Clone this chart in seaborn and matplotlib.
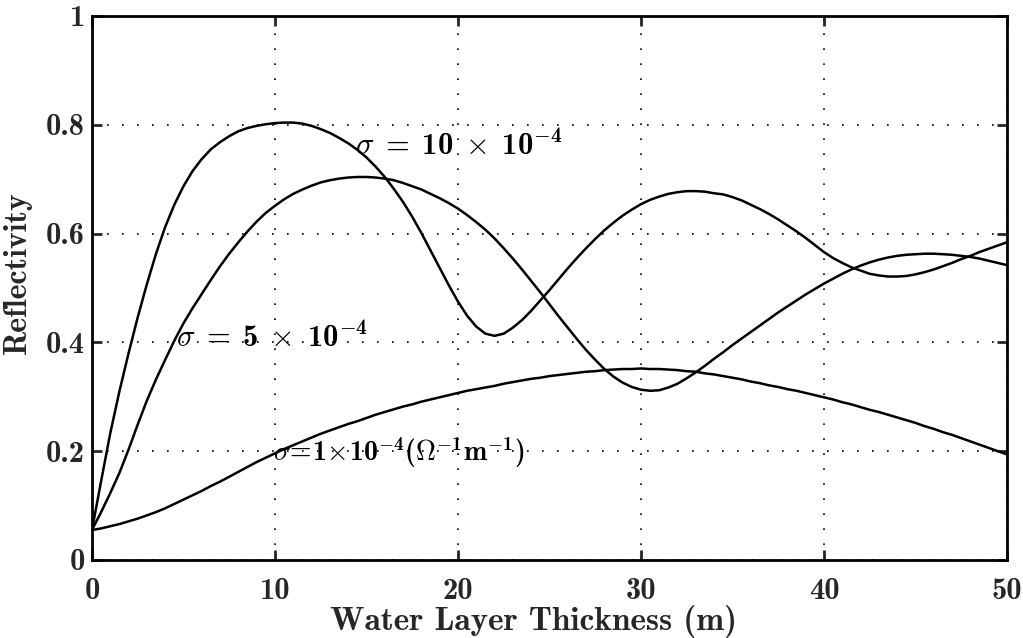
import matplotlib
matplotlib.use("Agg")
import matplotlib.pyplot as plt
import numpy as np
import pandas as pd
import seaborn as sns

# Water layer thickness (m), sampled every 0.5 m
thickness = np.arange(0, 50.5, 0.5)

# Reflectivity for sigma = 10e-4
refl_sigma10 = [
    0.055, 0.145, 0.233, 0.310, 0.380, 0.446, 0.507, 0.563, 0.612, 0.653,
    0.687, 0.715, 0.737, 0.755, 0.768, 0.779, 0.788, 0.794, 0.798, 0.801,
    0.803, 0.804, 0.804, 0.802, 0.798, 0.792, 0.785, 0.776, 0.766, 0.754,
    0.740, 0.723, 0.704, 0.682, 0.658, 0.631, 0.601, 0.569, 0.537, 0.505,
    0.475, 0.449, 0.429, 0.416, 0.412, 0.416, 0.427, 0.441, 0.458, 0.477,
    0.496, 0.516, 0.536, 0.555, 0.573, 0.590, 0.606, 0.620, 0.633, 0.644,
    0.654, 0.662, 0.668, 0.673, 0.676, 0.678, 0.678, 0.677, 0.674, 0.672,
    0.667, 0.661, 0.653, 0.645, 0.636, 0.626, 0.615, 0.604, 0.592, 0.579,
    0.566, 0.555, 0.546, 0.538, 0.532, 0.526, 0.523, 0.521, 0.521, 0.522,
    0.525, 0.529, 0.534, 0.540, 0.546, 0.553, 0.559, 0.566, 0.572, 0.578,
    0.584,
]

# Reflectivity for sigma = 5e-4
refl_sigma5 = [
    0.055, 0.088, 0.123, 0.160, 0.203, 0.249, 0.293, 0.332, 0.368, 0.403,
    0.435, 0.463, 0.489, 0.515, 0.540, 0.563, 0.584, 0.604, 0.622, 0.638,
    0.651, 0.663, 0.673, 0.681, 0.688, 0.694, 0.698, 0.701, 0.703, 0.704,
    0.704, 0.703, 0.701, 0.698, 0.693, 0.687, 0.681, 0.673, 0.665, 0.656,
    0.646, 0.634, 0.621, 0.607, 0.591, 0.573, 0.554, 0.534, 0.513, 0.492,
    0.470, 0.448, 0.427, 0.406, 0.386, 0.368, 0.351, 0.337, 0.326, 0.318,
    0.313, 0.311, 0.312, 0.317, 0.324, 0.334, 0.345, 0.357, 0.370, 0.382,
    0.395, 0.407, 0.419, 0.431, 0.443, 0.455, 0.466, 0.477, 0.488, 0.498,
    0.508, 0.517, 0.526, 0.534, 0.541, 0.547, 0.552, 0.556, 0.559, 0.561,
    0.562, 0.563, 0.563, 0.562, 0.561, 0.559, 0.557, 0.554, 0.550, 0.546,
    0.542,
]

# Reflectivity for sigma = 1e-4
refl_sigma1 = [
    0.055, 0.058, 0.062, 0.066, 0.071, 0.076, 0.082, 0.088, 0.095, 0.103,
    0.111, 0.119, 0.127, 0.136, 0.144, 0.153, 0.162, 0.171, 0.180, 0.188,
    0.196, 0.204, 0.211, 0.218, 0.225, 0.232, 0.238, 0.244, 0.250, 0.255,
    0.261, 0.267, 0.272, 0.277, 0.282, 0.286, 0.291, 0.295, 0.299, 0.303,
    0.307, 0.311, 0.314, 0.317, 0.320, 0.324, 0.327, 0.330, 0.333, 0.335,
    0.338, 0.340, 0.342, 0.344, 0.346, 0.347, 0.349, 0.350, 0.351, 0.351,
    0.352, 0.351, 0.351, 0.350, 0.349, 0.347, 0.346, 0.343, 0.341, 0.338,
    0.335, 0.332, 0.328, 0.325, 0.321, 0.318, 0.314, 0.311, 0.307, 0.303,
    0.299, 0.295, 0.290, 0.286, 0.281, 0.276, 0.272, 0.267, 0.262, 0.257,
    0.252, 0.246, 0.241, 0.235, 0.230, 0.224, 0.218, 0.212, 0.206, 0.200,
    0.194,
]

series_names = ["sigma10", "sigma5", "sigma1"]

x_ticks = [0, 10, 20, 30, 40, 50]
x_tick_labels = ["0", "10", "20", "30", "40", "50"]
y_ticks = [0, 0.2, 0.4, 0.6, 0.8, 1.0]
y_tick_labels = ["0", "0.2", "0.4", "0.6", "0.8", "1"]

label_texts = [
    r"$\sigma\;=\;10\;\times\;10^{-4}$",
    r"$\sigma\;=\;5\;\times\;10^{-4}$",
    r"$\sigma\!=\!1\!\times\!10^{-4}(\Omega^{-1}\mathrm{m}^{-1})$",
]
label_positions = [(14.4, 0.763), (4.6, 0.41), (9.9, 0.197)]
label_sizes = [22, 22, 20]

df = pd.DataFrame({
    "thickness": np.tile(thickness, 3),
    "reflectivity": refl_sigma10 + refl_sigma5 + refl_sigma1,
    "series": np.repeat(series_names, len(thickness)),
})

sns.set_style("white")
plt.rcParams["mathtext.fontset"] = "custom"
plt.rcParams["mathtext.rm"] = "cmb10"
plt.rcParams["mathtext.bf"] = "cmb10"
plt.rcParams["mathtext.it"] = "cmmi10"
plt.rcParams["mathtext.fallback"] = "cm"
plt.rcParams["font.family"] = ["cmb10", "DejaVu Serif"]

fig = plt.figure(figsize=(10.23, 6.38), dpi=100)
ax = fig.add_axes([0.0899, 0.1223, 0.8944, 0.8527])

sns.lineplot(data=df, x="thickness", y="reflectivity", hue="series",
             palette=["black"] * 3, legend=False, linewidth=1.8, ax=ax,
             estimator=None, sort=False)

ax.set_xlim(0, 50)
ax.set_ylim(0, 1)
ax.set_xticks(x_ticks)
ax.set_xticklabels(x_tick_labels, fontsize=22, fontfamily="cmb10")
ax.set_yticks(y_ticks)
ax.set_yticklabels(y_tick_labels, fontsize=22, fontfamily="cmb10")

ax.grid(True, color="black", linestyle=(0, (1, 8)), linewidth=1.2)
ax.tick_params(direction="in", length=7, width=2, top=True, right=True,
               bottom=True, left=True, pad=5)
ax.tick_params(axis="x", pad=13)
for sp in ax.spines.values():
    sp.set_color("black")
    sp.set_linewidth(2.0)

ax.set_xlabel("Water Layer Thickness (m)", fontsize=24, fontfamily="cmb10")
ax.set_ylabel("Reflectivity", fontsize=23, fontfamily="cmb10")
ax.xaxis.set_label_coords(0.483, -0.082)
ax.yaxis.set_label_coords(-0.066, 0.528)

for txt, (tx, ty), fs in zip(label_texts, label_positions, label_sizes):
    ax.text(tx, ty, txt, fontsize=fs, ha="left", va="center", color="black")

fig.savefig("out.png", dpi=100)
